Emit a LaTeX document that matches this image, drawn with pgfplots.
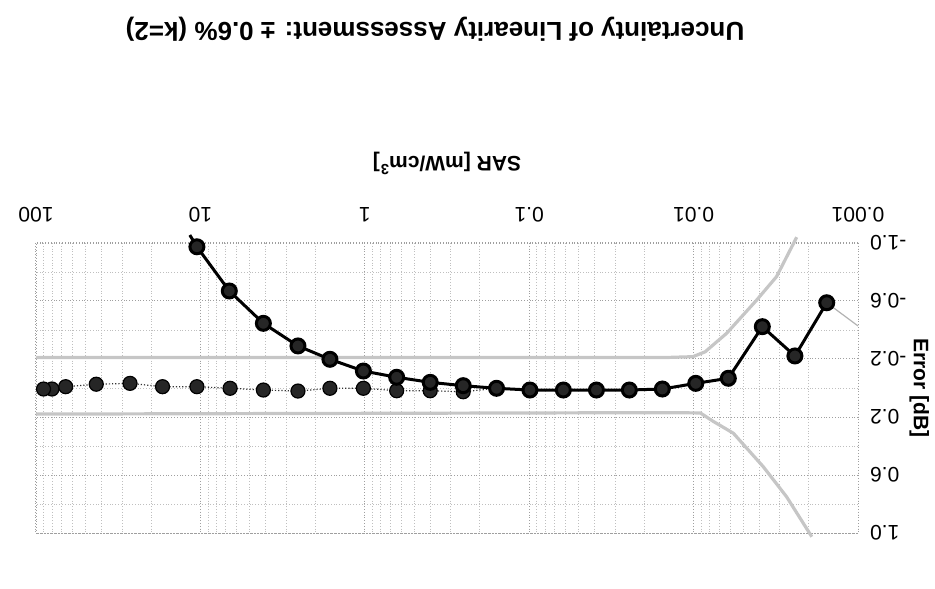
\documentclass[border=0pt]{standalone}
\usepackage{fontspec}
\setmainfont{Liberation Sans}
\usepackage{graphicx}
\usepackage{pgfplots}
\pgfplotsset{compat=1.18}

\begin{document}
\rotatebox{180}{%
\begin{tikzpicture}
\begin{semilogxaxis}[
  name=ax,
  scale only axis,
  width=411pt, height=145pt,
  xmin=0.001, xmax=100, ymin=-1, ymax=1,
  clip=false,
  xtick={0.001,0.01,0.1,1,10,100},
  xticklabels={0.001,0.01,0.1,1,10,100},
  ytick={-1,-0.6,-0.2,0.2,0.6,1},
  yticklabels={-1.0,-0.6,-0.2,0.2,0.6,1.0},
  minor ytick={-0.8,-0.4,0,0.4,0.8},
  grid=both,
  major grid style={gray!75, densely dotted, line width=0.5pt},
  minor grid style={gray!50, densely dotted, line width=0.4pt},
  axis line style={gray!75, densely dotted},
  tick style={draw=none},
  ticklabel style={font=\fontsize{10.5}{12}\selectfont},
  xticklabel style={yshift=-7pt},
  yticklabel style={xshift=-2.5pt},
  xlabel={SAR [mW/cm\textsuperscript{3}]},
  xlabel style={font=\bfseries\fontsize{10.5}{12}\selectfont, at={(axis description cs:0.5,0)}, anchor=center, yshift=-40pt},
  ylabel={Error [dB]},
  ylabel style={font=\bfseries\fontsize{10.5}{12}\selectfont, at={(axis description cs:-0.0745,0.5)}, anchor=center},
  title={Uncertainty of Linearity Assessment: \textpm{} 0.6\% (k=2)},
  title style={font=\bfseries\fontsize{13}{15}\selectfont, at={(axis description cs:0.5,0)}, anchor=center, yshift=-113pt, xshift=6pt},
]
% uncertainty bounds
\addplot[gray!45, line width=1.6pt] coordinates {
  (0.00236,-1.04) (0.00313,-0.768) (0.00413,-0.607) (0.0063,-0.377)
  (0.0085,-0.25) (0.0101,-0.216) (0.015,-0.21) (100,-0.21)};
\addplot[gray!45, line width=1.6pt] coordinates {
  (0.00191,1.026) (0.00272,0.75) (0.00377,0.543) (0.00573,0.312)
  (0.0076,0.23) (0.0091,0.172) (0.015,0.17) (100,0.18)};
\addplot[gray!60, line width=0.6pt] coordinates {(0.001,-0.428) (0.00155,-0.588)};

% corrected
\addplot[black!80, densely dotted, line width=0.6pt, mark=*, mark size=3.5pt,
  mark options={solid, fill=black!85, draw=black}] coordinates {
  (0.158,0.002) (0.252,0.026) (0.40,0.019) (0.64,0.019) (1.02,0.002)
  (1.63,0.002) (2.55,0.021) (4.14,0.014) (6.6,0.002) (10.5,-0.009)
  (17,-0.009) (26.8,-0.032) (43,-0.026) (66,-0.009) (80,0.007) (90,0.007)};

% measured
\addplot[black, line width=1.5pt, mark=*, mark size=3.5pt,
  mark options={fill=black!85, draw=black}] coordinates {
  (0.00155,-0.588) (0.00242,-0.221) (0.00382,-0.423) (0.00615,-0.067)
  (0.0097,-0.032) (0.0155,0.007) (0.0246,0.014) (0.039,0.014)
  (0.062,0.014) (0.099,0.014) (0.158,0.002) (0.252,-0.016)
  (0.40,-0.039) (0.64,-0.074) (1.02,-0.117) (1.63,-0.198)
  (2.55,-0.29) (4.14,-0.446) (6.67,-0.669) (10.5,-0.974)};
\addplot[black, line width=1.5pt] coordinates {(10.5,-0.974) (11.6,-1.055)};
\end{semilogxaxis}
\pgfresetboundingbox
\path ([xshift=-38.5pt,yshift=-121.5pt]ax.south west) rectangle ([xshift=18pt,yshift=27.5pt]ax.north east);
\end{tikzpicture}%
}
\end{document}
